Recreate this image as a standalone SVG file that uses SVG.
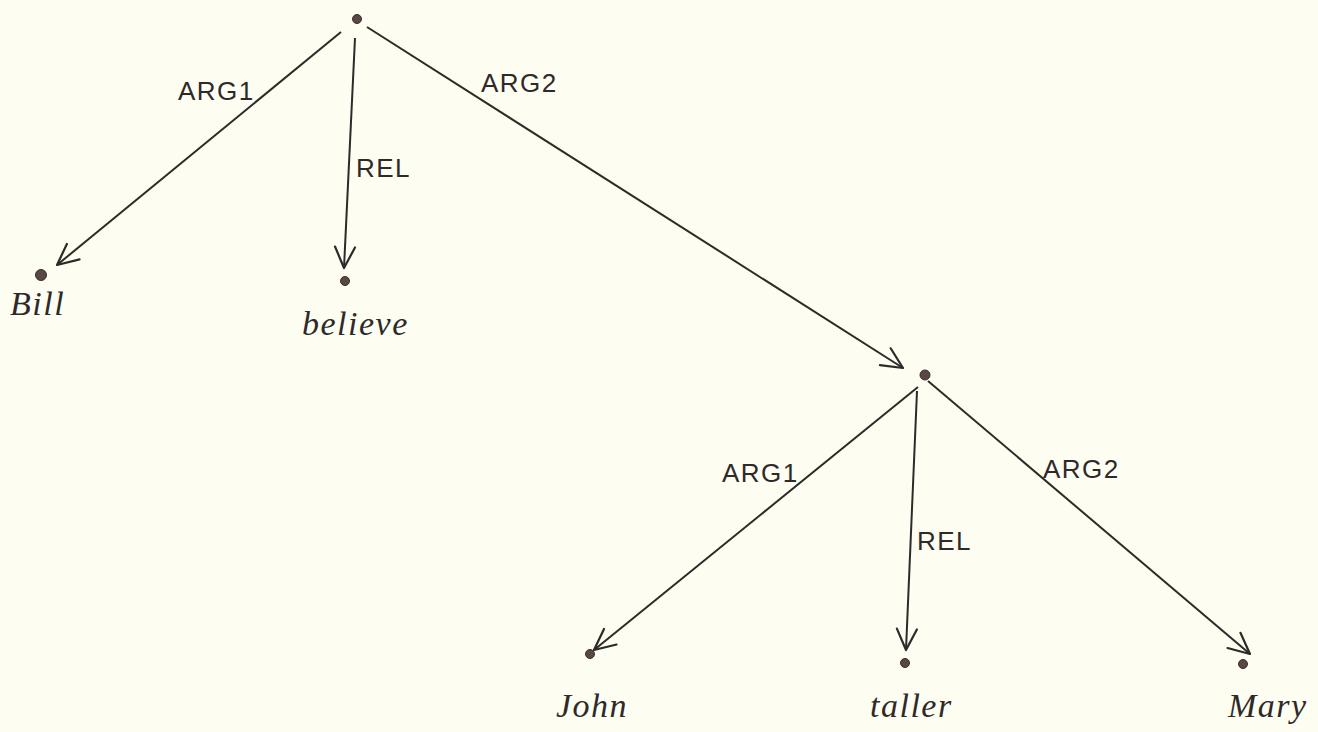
<svg xmlns="http://www.w3.org/2000/svg" width="1318" height="732" viewBox="0 0 1318 732">
  <defs>
    <marker id="vee" viewBox="0 0 26 26" refX="24" refY="13" markerWidth="26" markerHeight="26" markerUnits="userSpaceOnUse" orient="auto">
      <path d="M3,3 L24,13 L3,23" fill="none" stroke="#2e2a2a" stroke-width="2.2" stroke-linecap="round" stroke-linejoin="round"/>
    </marker>
  </defs>
  <style>
    .edge { stroke: #2e2a2a; stroke-width: 2; fill: none; marker-end: url(#vee); }
    .dot { fill: #5b4646; stroke: #3a2e2e; stroke-width: 1; }
    .lbl { font-family: "Liberation Sans", "DejaVu Sans", sans-serif; font-size: 26px; fill: #2e2a2a; letter-spacing: 1.5px; }
    .word { font-family: "Liberation Serif", "DejaVu Serif", serif; font-style: italic; font-size: 34px; fill: #2e2a2a; letter-spacing: 1.5px; }
  </style>
  <rect x="0" y="0" width="1318" height="732" fill="#fdfdf1"/>

  <!-- connectors -->
  <g id="connectors">
    <path class="edge" d="M341,32 L57,265"/>
    <path class="edge" d="M355,38 L344,268"/>
    <path class="edge" d="M367,27 L903,368"/>
    <path class="edge" d="M918,387 L594,650"/>
    <path class="edge" d="M917,391 L906,650"/>
    <path class="edge" d="M928,381 L1250,654"/>
    <text class="lbl" x="178" y="100">ARG1</text>
    <text class="lbl" x="356" y="177">REL</text>
    <text class="lbl" x="481" y="92">ARG2</text>
    <text class="lbl" x="722" y="482">ARG1</text>
    <text class="lbl" x="917" y="550">REL</text>
    <text class="lbl" x="1043" y="478">ARG2</text>
  </g>

  <!-- root predicate -->
  <g id="root">
    <circle class="dot" cx="357" cy="19" r="4.5"/>
  </g>

  <!-- leaves of the upper tree -->
  <g id="bill">
    <circle class="dot" cx="41" cy="275" r="5.5"/>
    <text class="word" x="10" y="315">Bill</text>
  </g>
  <g id="believe">
    <circle class="dot" cx="345" cy="281" r="4.5"/>
    <text class="word" x="302" y="335">believe</text>
  </g>

  <!-- embedded predicate -->
  <g id="taller-node">
    <circle class="dot" cx="925" cy="375" r="5"/>
  </g>

  <!-- leaves of the lower tree -->
  <g id="john">
    <circle class="dot" cx="590" cy="654" r="4.5"/>
    <text class="word" x="556" y="717">John</text>
  </g>
  <g id="taller">
    <circle class="dot" cx="905" cy="663" r="4.5"/>
    <text class="word" x="870" y="717">taller</text>
  </g>
  <g id="mary">
    <circle class="dot" cx="1243" cy="664" r="4.5"/>
    <text class="word" x="1228" y="717">Mary</text>
  </g>
</svg>
